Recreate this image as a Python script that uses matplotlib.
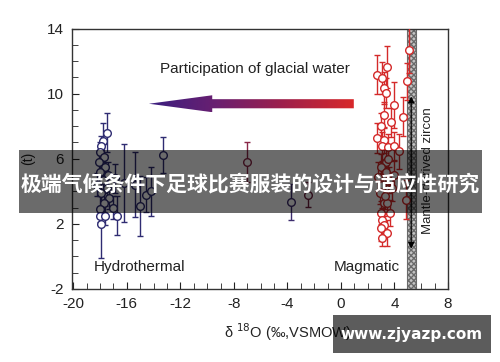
import numpy as np
import matplotlib
matplotlib.use('Agg')
import matplotlib.pyplot as plt
from matplotlib.patches import Polygon, Rectangle
from matplotlib.colors import LinearSegmentedColormap
from matplotlib.ticker import MultipleLocator

plt.rcParams['font.family'] = ['Liberation Sans', 'DejaVu Sans']
plt.rcParams['axes.unicode_minus'] = False

# hydrothermal zircons (blue)
hx = [-17.5, -17.8, -17.9, -18.0, -17.7, -18.1, -17.6, -18.0, -17.4, -17.8,
      -18.2, -17.5, -17.9, -17.3, -17.7, -18.0, -18.0, -17.6, -17.9, -16.7,
      -16.2, -15.4, -15.0, -14.6, -14.2, -13.3, -17.0, -16.9]
hy = [7.6, 7.1, 6.8, 6.4, 6.1, 5.8, 5.5, 5.2, 5.0, 4.7,
      4.4, 4.2, 3.9, 3.6, 3.3, 2.9, 2.5, 2.5, 2.0, 2.5,
      4.5, 4.4, 3.1, 3.8, 4.0, 6.25, 3.0, 4.8]
herr = [1.2, 1.1, 0.6, 0.6, 0.8, 0.7, 0.7, 0.6, 0.8, 0.6,
        0.7, 0.6, 0.8, 0.7, 0.6, 0.8, 0.5, 0.6, 2.1, 1.2,
        2.4, 2.0, 1.85, 1.1, 1.5, 1.1, 0.7, 0.9]

# intermediate points
mx = [-7.0, -3.75, -2.5]
my = [5.8, 3.35, 3.8]
merr = [1.2, 1.1, 0.75]
mcol = ['#8a2848', '#3d2d6e', '#6e2040']

# magmatic zircons (red)
rx = [5.1, 4.93, 2.73, 3.1, 3.43, 3.23, 3.35, 3.97, 4.6, 3.18,
      3.73, 2.98, 2.73, 3.23, 3.1, 3.5, 3.97, 3.35, 4.33, 4.85,
      3.2, 3.45, 2.98, 3.67, 3.1, 3.23, 2.98, 3.43, 3.1, 3.0,
      3.4, 2.8, 3.6, 3.1, 3.8, 2.9, 3.3, 4.0, 3.5]
ry = [12.67, 10.76, 11.17, 10.97, 11.64, 10.35, 10.04, 9.32, 8.57, 8.71,
      8.23, 7.99, 7.27, 7.17, 6.76, 6.75, 6.76, 5.83, 6.45, 3.48,
      3.3, 3.3, 2.68, 2.66, 2.25, 1.94, 1.75, 1.43, 1.12, 5.5,
      5.2, 4.9, 4.7, 4.4, 4.2, 3.9, 3.7, 5.0, 6.0]
rerr = [1.4, 1.15, 1.2, 1.0, 1.3, 1.0, 0.9, 1.4, 1.2, 0.8,
        0.9, 0.8, 0.9, 0.8, 0.9, 0.8, 0.9, 0.8, 1.1, 1.2,
        0.8, 0.7, 0.7, 0.8, 0.7, 0.7, 0.8, 0.8, 0.5, 0.8,
        0.8, 0.9, 0.8, 0.7, 0.8, 0.7, 0.8, 0.9, 0.8]
rxerr = [0.15] * len(rx)

mantle = (4.9, 5.6)
xticks = [-20, -16, -12, -8, -4, 0, 4, 8]
yticks = [-2, 2, 6, 10, 14]

fig = plt.figure(figsize=(5, 3.62), dpi=100)
ax = fig.add_axes([0.144, 0.2017, 0.752, 0.7195])

mk = dict(fmt='o', ms=5.5, mfc='white', mew=1.0, elinewidth=1.0,
          capsize=2.2, capthick=1.4, zorder=4)
ax.errorbar(hx, hy, yerr=herr, color='#2f2c72', **mk)
for x, y, e, c in zip(mx, my, merr, mcol):
    ax.errorbar([x], [y], yerr=[e], color=c, **mk)
ax.errorbar(rx, ry, yerr=rerr, xerr=rxerr, color='#d42a2a', **mk)

# mantle band
ax.axvspan(*mantle, facecolor='#c4c4c4', hatch='xxxxxx', edgecolor='#6a6a6a',
           linewidth=0.8, zorder=2)
ax.annotate('', xy=(5.25, 10.0), xytext=(5.25, 0.3),
            arrowprops=dict(arrowstyle='<|-|>', color='black', lw=0.9,
                            mutation_scale=9), zorder=5)
ax.text(6.5, 5.3, 'Mantle-derived zircon', rotation=90, ha='center',
        va='center', fontsize=9.5, color='#222222')

# gradient arrow
tip_x, base_x, end_x = -14.35, -9.62, 0.96
yc, bh, hh = 9.38, 0.28, 0.52
verts = [(tip_x, yc), (base_x, yc + hh), (base_x, yc + bh), (end_x, yc + bh),
         (end_x, yc - bh), (base_x, yc - bh), (base_x, yc - hh)]
cmap = LinearSegmentedColormap.from_list(
    'g', ['#3a1f80', '#6a1f70', '#a0204a', '#d8282a'])
im = ax.imshow(np.linspace(0, 1, 256).reshape(1, -1), cmap=cmap, aspect='auto',
               extent=[tip_x, end_x, yc - hh, yc + hh], zorder=3)
patch = Polygon(verts, closed=True, facecolor='none', edgecolor='none')
ax.add_patch(patch)
im.set_clip_path(patch)

ax.text(-6.4, 11.54, 'Participation of glacial water', ha='center',
        va='center', fontsize=11, color='#222222')
ax.text(-18.5, -0.65, 'Hydrothermal', ha='left', va='center', fontsize=11,
        color='#222222')
ax.text(4.4, -0.65, 'Magmatic', ha='right', va='center', fontsize=11,
        color='#222222')

ax.set_xlim(-20.1, 8)
ax.set_ylim(-2, 14)
ax.set_xticks(xticks)
ax.set_yticks(yticks)
ax.xaxis.set_minor_locator(MultipleLocator(1))
ax.yaxis.set_minor_locator(MultipleLocator(1))
ax.tick_params(which='both', direction='in', labelsize=11, pad=6,
               colors='#222222')
ax.tick_params(which='major', length=5)
ax.tick_params(which='minor', length=4)
for s in ax.spines.values():
    s.set_linewidth(1.0)
    s.set_color('#333333')
ax.set_xlabel('δ $^{18}$O (‰,VSMOW)', fontsize=10.5, x=0.575, labelpad=7,
              color='#222222')
ax.set_ylabel('(t)', fontsize=10, labelpad=8, color='#222222')

# overlays
fig.add_artist(Rectangle((19 / 500, 1 - 213 / 362), 463 / 500, 63 / 362,
                         transform=fig.transFigure, facecolor='black',
                         alpha=0.58, edgecolor='none', zorder=10))
fig.text(250 / 500, 1 - 184 / 362, '极端气候条件下足球比赛服装的设计与适应性研究',
         ha='center', va='center', fontsize=15, color='white', weight='bold',
         family=['Noto Sans CJK SC', 'DejaVu Sans'], zorder=11)
fig.add_artist(Rectangle((333 / 500, 1 - 353 / 362), 158 / 500, 38 / 362,
                         transform=fig.transFigure, facecolor='black',
                         alpha=0.64, edgecolor='none', zorder=10))
fig.text(412 / 500, 1 - 335 / 362, 'www.zjyazp.com', ha='center', va='center',
         fontsize=11, color='white', weight='bold', family='DejaVu Sans',
         zorder=11)

fig.savefig('out.png', dpi=100)
